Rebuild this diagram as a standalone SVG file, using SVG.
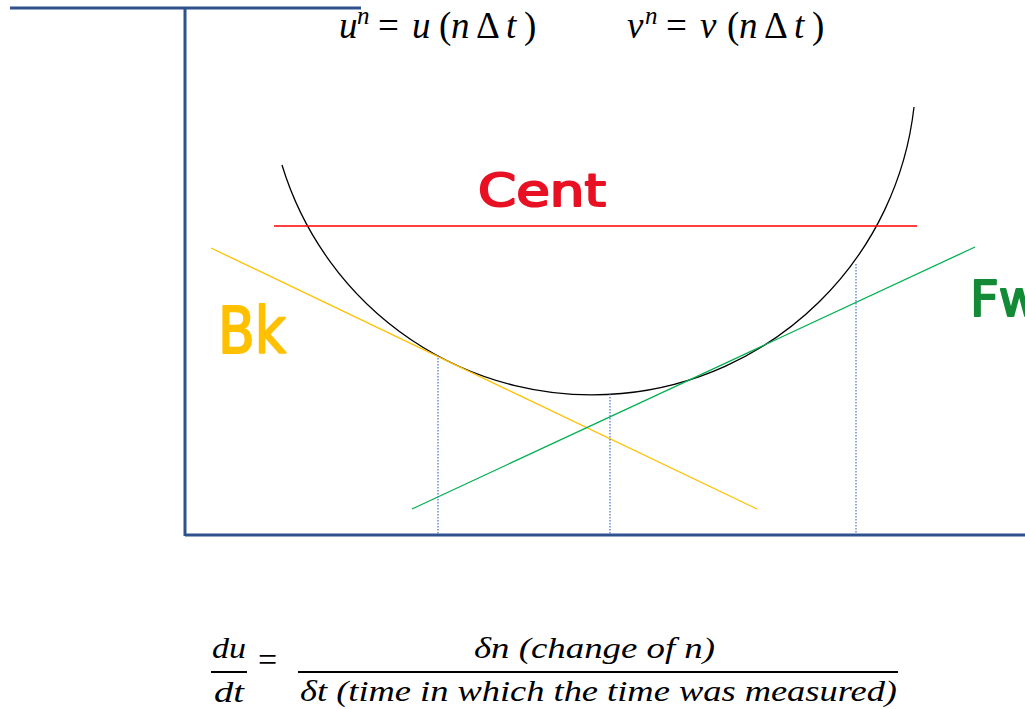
<svg xmlns="http://www.w3.org/2000/svg" width="1025" height="709" viewBox="0 0 1025 709">
<style>
.ax{stroke:#2F528F;stroke-width:3;fill:none}
.m{font-family:"Liberation Serif","DejaVu Serif",serif;font-style:italic;fill:#000}
.up{font-style:normal}
.hw{font-family:"DejaVu Sans","Noto Sans",sans-serif;stroke-width:2;stroke-linejoin:round}
.dot{stroke:#4472C4;stroke-width:1.2;stroke-dasharray:1.5 1.5;fill:none}
</style>
<rect width="1025" height="709" fill="#fff"/>
<g id="axes">
<line class="ax" x1="10" y1="8" x2="361" y2="8"/>
<line class="ax" x1="185" y1="8" x2="185" y2="536"/>
<line class="ax" x1="185" y1="535" x2="1025" y2="535"/>
</g>
<g id="curve">
<path d="M282,165 A324,324 0 0 0 914,107" fill="none" stroke="#000" stroke-width="1.3"/>
</g>
<g id="connectors">
<line x1="274" y1="226" x2="917" y2="226" stroke="#FF0000" stroke-width="1.3"/>
<line x1="211" y1="248" x2="757" y2="509" stroke="#FFC000" stroke-width="1.3"/>
<line x1="412" y1="509" x2="975" y2="247" stroke="#00B050" stroke-width="1.3"/>
<line class="dot" x1="438" y1="355" x2="438" y2="534"/>
<line class="dot" x1="610" y1="394" x2="610" y2="534"/>
<line class="dot" x1="856" y1="264" x2="856" y2="534"/>
</g>
<g id="labels">
<text id="cent" class="hw" x="478" y="206" font-size="44" fill="#E81123" stroke="#E81123" textLength="128" lengthAdjust="spacingAndGlyphs">Cent</text>
<text id="bk" class="hw" x="218" y="353" font-size="64" fill="#FFC000" stroke="#FFC000" textLength="68" lengthAdjust="spacingAndGlyphs">Bk</text>
<text id="fw" class="hw" x="970" y="316" font-size="50" fill="#138A36" stroke="#138A36">Fw</text>
</g>
<g id="eq-top">
<text class="m" font-size="37" y="38"><tspan x="339">u</tspan><tspan x="357" y="24" font-size="25">n</tspan><tspan class="up" x="378" y="38">=</tspan><tspan x="412">u</tspan><tspan class="up" x="439">(</tspan><tspan x="451">n</tspan><tspan class="up" x="476">Δ</tspan><tspan x="506">t</tspan><tspan class="up" x="524">)</tspan></text>
<text class="m" font-size="37" y="38"><tspan x="627">v</tspan><tspan x="645" y="24" font-size="25">n</tspan><tspan class="up" x="666" y="38">=</tspan><tspan x="700">v</tspan><tspan class="up" x="727">(</tspan><tspan x="739">n</tspan><tspan class="up" x="764">Δ</tspan><tspan x="794">t</tspan><tspan class="up" x="812">)</tspan></text>
</g>
<g id="eq-bottom">
<text class="m" x="212" y="658" font-size="30" textLength="34" lengthAdjust="spacingAndGlyphs">du</text>
<line x1="211" y1="672" x2="247" y2="672" stroke="#000" stroke-width="2"/>
<text class="m" x="214" y="702" font-size="30" textLength="30" lengthAdjust="spacingAndGlyphs">dt</text>
<text class="m up" x="258" y="671" font-size="34">=</text>
<text class="m" x="474" y="658" font-size="30" textLength="241" lengthAdjust="spacingAndGlyphs">δn (change of n)</text>
<line x1="298" y1="672" x2="898" y2="672" stroke="#000" stroke-width="2"/>
<text class="m" x="300" y="701" font-size="30" textLength="597" lengthAdjust="spacingAndGlyphs">δt (time in which the time was measured)</text>
</g>
</svg>
